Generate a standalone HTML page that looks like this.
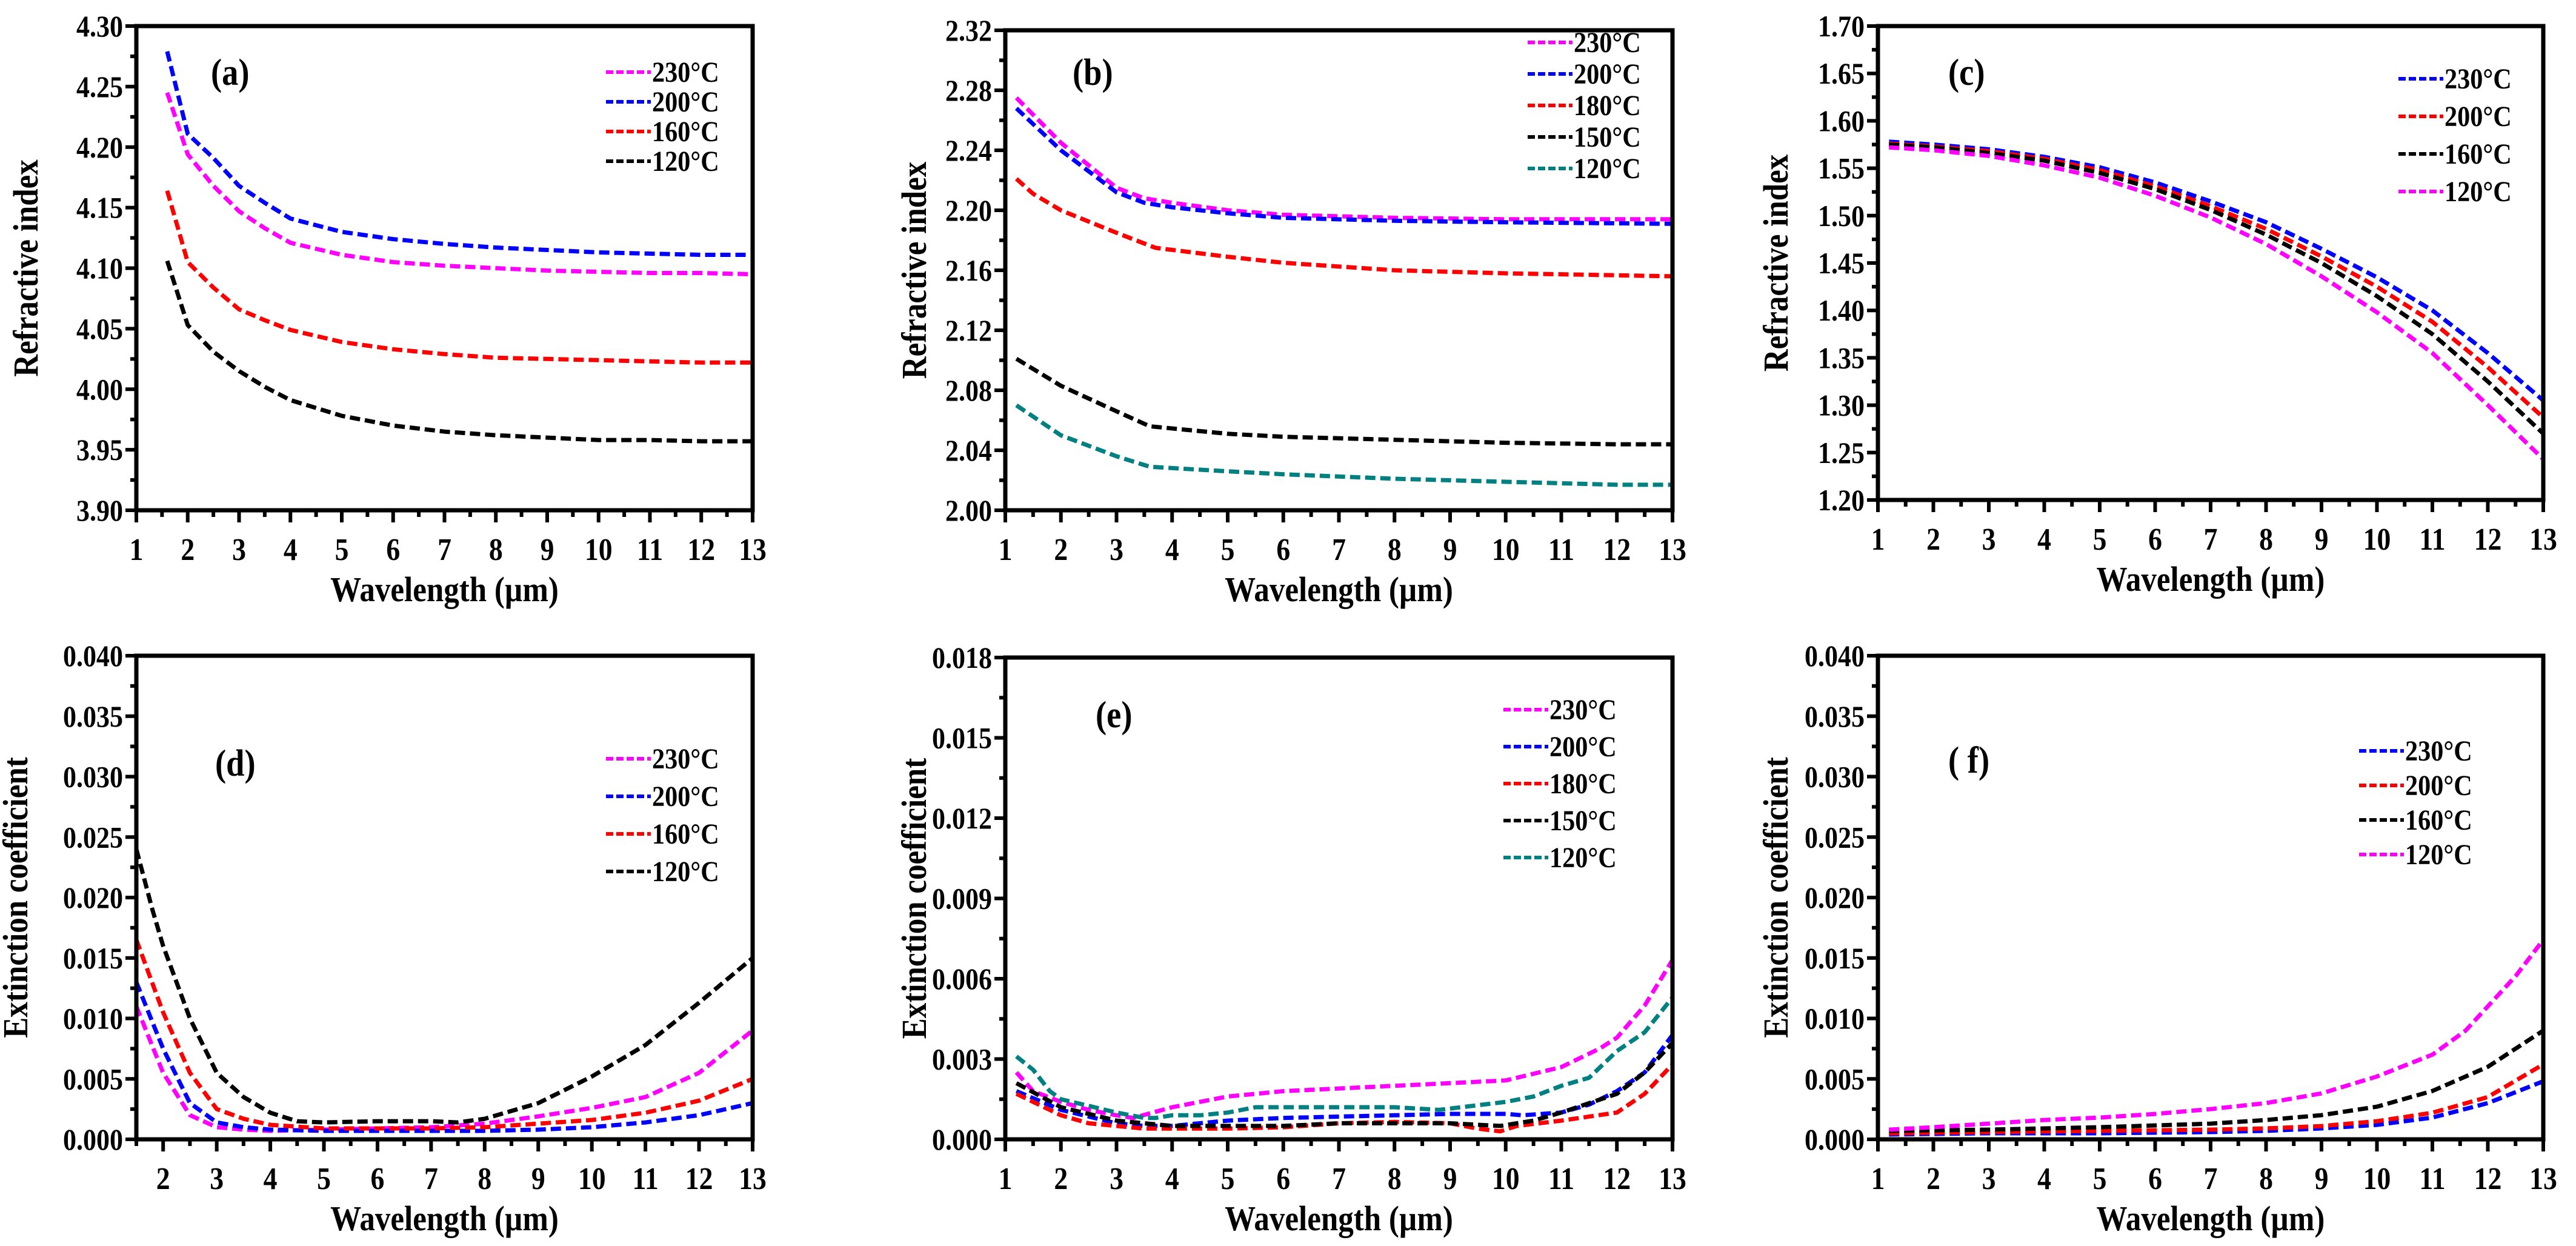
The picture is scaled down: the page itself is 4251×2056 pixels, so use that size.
<!DOCTYPE html>
<html><head><meta charset="utf-8"><style>
html,body{margin:0;padding:0;background:#fff}
svg{display:block}
text{font-family:"Liberation Serif",serif;font-weight:bold;fill:#000}
</style></head><body>
<svg id="fig" width="4251" height="2056" viewBox="0 0 4251 2056" xmlns="http://www.w3.org/2000/svg"></svg>
<script>
// ---------- data ----------
const legendA = ["230°C","200°C","160°C","120°C"];
const xA = [1.6,2,2.5,3,3.5,4,5,6,7,8,9,10,11,12,13];
const a230 = [4.245,4.194,4.168,4.147,4.133,4.121,4.111,4.105,4.102,4.100,4.098,4.097,4.096,4.096,4.095];
const a200 = [4.279,4.211,4.191,4.168,4.154,4.141,4.130,4.124,4.120,4.117,4.115,4.113,4.112,4.111,4.111];
const a160 = [4.164,4.105,4.084,4.066,4.057,4.049,4.039,4.033,4.029,4.026,4.025,4.024,4.023,4.022,4.022];
const a120 = [4.106,4.053,4.031,4.015,4.002,3.991,3.978,3.970,3.965,3.962,3.960,3.958,3.958,3.957,3.957];

const legendB = ["230°C","200°C","180°C","150°C","120°C"];
const xB = [1.2,2,3,3.5,4,5,6,8,10,13];
const b230 = [2.275,2.245,2.215,2.208,2.205,2.200,2.197,2.195,2.194,2.194];
const b200 = [2.268,2.240,2.212,2.205,2.202,2.198,2.195,2.193,2.192,2.191];
const xB2 = [1.2,1.5,2,3,3.7,5,6,8,10,13];
const b180 = [2.221,2.211,2.200,2.185,2.175,2.169,2.165,2.160,2.158,2.156];
const xB3 = [1.2,2,3,3.6,5,6,8,10,12,13];
const b150 = [2.101,2.083,2.066,2.056,2.051,2.049,2.047,2.045,2.044,2.044];
const b120 = [2.070,2.050,2.036,2.029,2.026,2.024,2.021,2.019,2.017,2.017];

const legendC = ["230°C","200°C","160°C","120°C"];
const xC = [1.2,2,3,4,5,6,7,8,9,10,11,12,13];
const c230 = [1.578,1.575,1.570,1.562,1.551,1.535,1.515,1.493,1.465,1.435,1.400,1.355,1.305];
const c200 = [1.576,1.573,1.568,1.560,1.548,1.531,1.510,1.486,1.457,1.425,1.388,1.340,1.287];
const c160 = [1.575,1.572,1.566,1.558,1.545,1.528,1.506,1.480,1.450,1.415,1.375,1.325,1.270];
const c120 = [1.572,1.569,1.563,1.553,1.540,1.521,1.498,1.470,1.436,1.398,1.355,1.300,1.243];

const legendD = ["230°C","200°C","160°C","120°C"];
const xD = [1.5,2,2.5,3,3.5,4,5,6,7,8,9,10,11,12,13];
const d230 = [0.011,0.0055,0.002,0.001,0.0008,0.0007,0.0008,0.0009,0.001,0.0013,0.0019,0.0026,0.0035,0.0055,0.009];
const d200 = [0.013,0.0075,0.003,0.0014,0.001,0.0008,0.0007,0.0007,0.0007,0.0007,0.0008,0.001,0.0014,0.002,0.003];
const d160 = [0.0165,0.0105,0.0055,0.0025,0.0017,0.0012,0.0009,0.0009,0.0009,0.001,0.0013,0.0016,0.0022,0.0032,0.005];
const xD2 = [1.5,1.8,2,2.5,3,3.5,4,4.5,5,6,7,7.5,8,9,10,11,12,13];
const d120 = [0.024,0.019,0.016,0.010,0.0055,0.0035,0.0022,0.0015,0.0014,0.0015,0.0015,0.0014,0.0017,0.003,0.0052,0.0078,0.0113,0.015];

const legendE = ["230°C","200°C","180°C","150°C","120°C"];
const xE1 = [1.2,1.5,2,2.5,3,3.3,4,5,6,7,8,9,10,11,11.7,12,12.5,13];
const e230 = [0.0025,0.0018,0.0014,0.0011,0.0009,0.0008,0.0012,0.0016,0.0018,0.0019,0.0020,0.0021,0.0022,0.0027,0.0034,0.0038,0.005,0.0067];
const xE2 = [1.2,2,3,3.5,4,5,6,7,8,9,10,10.3,11,11.5,12,12.5,13];
const e200 = [0.0018,0.0011,0.0006,0.0005,0.0005,0.0007,0.0008,0.00085,0.0009,0.00095,0.00095,0.0009,0.001,0.0013,0.0018,0.0025,0.0039];
const xE3 = [1.2,2,2.5,3,3.5,4,5,6,7,8,9,9.5,9.9,10.2,11,12,12.5,13];
const e180 = [0.0017,0.0009,0.0006,0.0005,0.0004,0.0004,0.0004,0.00045,0.0006,0.00065,0.0006,0.0004,0.0003,0.0005,0.0007,0.001,0.0017,0.0028];
const xE4 = [1.2,2,3,3.5,4,5,6,7,8,9,9.9,10.5,11,12,12.5,13];
const e150 = [0.0021,0.0012,0.0007,0.0006,0.0005,0.0005,0.0005,0.0006,0.0006,0.0006,0.0005,0.0007,0.001,0.0017,0.0025,0.0036];
const xE5 = [1.2,1.5,1.8,2,3,3.5,3.7,4,4.5,5,5.5,6,7,8,8.8,10,10.5,11,11.5,12,12.5,13];
const e120 = [0.0031,0.0026,0.0018,0.0015,0.001,0.0008,0.0008,0.0009,0.0009,0.001,0.0012,0.0012,0.0012,0.0012,0.0011,0.0014,0.0016,0.002,0.0023,0.0033,0.004,0.0053];

const legendF = ["230°C","200°C","160°C","120°C"];
const xF1 = [1.2,2,3,4,5,6,7,8,9,10,11,11.6,12,12.5,13];
const f120 = [0.0008,0.001,0.0013,0.0016,0.0018,0.0021,0.0025,0.003,0.0038,0.0052,0.007,0.009,0.011,0.0135,0.0165];
const xF = [1.2,3,5,7,8,9,10,11,12,13];
const f160 = [0.0007,0.0008,0.001,0.0013,0.0016,0.002,0.0027,0.004,0.006,0.009];
const f200 = [0.0005,0.0006,0.0007,0.0008,0.0009,0.0011,0.0015,0.0022,0.0035,0.0062];
const f230 = [0.0004,0.0005,0.0005,0.0006,0.0007,0.0009,0.0012,0.0018,0.003,0.0048];

const ticksA = ["3.90","3.95","4.00","4.05","4.10","4.15","4.20","4.25","4.30"];
const ticksB = ["2.00","2.04","2.08","2.12","2.16","2.20","2.24","2.28","2.32"];
const ticksC = ["1.20","1.25","1.30","1.35","1.40","1.45","1.50","1.55","1.60","1.65","1.70"];
const ticksDF = ["0.000","0.005","0.010","0.015","0.020","0.025","0.030","0.035","0.040"];
const ticksE = ["0.000","0.003","0.006","0.009","0.012","0.015","0.018"];
const xTickLabels = ["1","2","3","4","5","6","7","8","9","10","11","12","13"];

// ---------- drawing ----------
const NS = "http://www.w3.org/2000/svg";
const svg = document.getElementById("fig");
const SQ = 0.88; // horizontal condensation to mimic narrow Times bold
function mk(tag, attrs, parent){
  const e = document.createElementNS(NS, tag);
  for (const k in attrs) e.setAttribute(k, attrs[k]);
  (parent||svg).appendChild(e);
  return e;
}
function txt(parent, x, y, size, anchor, str, rot){
  const t = mk("text", {x:0, y:0, "font-size":size, "text-anchor":anchor,
    transform:"translate("+x+","+y+")" + (rot?" rotate(-90)":"") + " scale("+SQ+",1)"}, parent);
  t.textContent = str;
  return t;
}
const COL = {m:"#ff00ff", b:"#0000ff", r:"#ff0000", k:"#000000", t:"#008080"};

function panel(cfg){
  const g = mk("g", {});
  
  
  const L=cfg.L,R=cfg.R,T=cfg.T,B=cfg.B;
  const sx = v => L + (v - cfg.xmin)/(cfg.xmax - cfg.xmin)*(R-L);
  const yv = cfg.ticks.map(Number);
  const ymin = yv[0], ymax = yv[yv.length-1];
  const sy = v => B - (v - ymin)/(ymax - ymin)*(B-T);
  cfg.series.forEach(s => {
    let d = "";
    s.x.forEach((xv,i) => { d += (i?"L":"M") + sx(xv).toFixed(1) + "," + sy(s.y[i]).toFixed(1); });
    const p = mk("path", {d:d, fill:"none", stroke:s.c, "stroke-width":7, "stroke-dasharray":"17 8", "stroke-linejoin":"round"}, g);
    
    
  });
  const fr = mk("rect", {x:L, y:T, width:R-L, height:B-T, fill:"none", stroke:"#000", "stroke-width":7}, g);
  
  
  const ya = mk("g", {}, g);
  
  
  cfg.ticks.forEach((t,i) => {
    const y = sy(Number(t));
    mk("line", {x1:L-18, x2:L, y1:y, y2:y, stroke:"#000","stroke-width":6}, ya);
    if (i < cfg.ticks.length-1){
      const ym = sy((Number(t)+Number(cfg.ticks[i+1]))/2);
      mk("line", {x1:L-10, x2:L, y1:ym, y2:ym, stroke:"#000","stroke-width":6}, ya);
    }
    const tx = txt(ya, L-22, y+17, 50, "end", t);
    
    
  });
  const xa = mk("g", {}, g);
  
  
  xTickLabels.forEach((t,i) => {
    const v = Number(t);
    if (v >= cfg.xmin) {
      const x = sx(v);
      mk("line", {x1:x, x2:x, y1:B, y2:B+20, stroke:"#000","stroke-width":6}, xa);
      const tx = txt(xa, x, B+82, 52, "middle", t);
      
      
    }
    if (v+0.5 <= cfg.xmax && v+0.5 >= cfg.xmin) {
      const xm = sx(v+0.5);
      mk("line", {x1:xm, x2:xm, y1:B, y2:B+11, stroke:"#000","stroke-width":6}, xa);
    }
  });
  const xt = txt(g, (L+R)/2, B+150, 58, "middle", "Wavelength (µm)");
  
  
  const yt = txt(g, cfg.ytx, (T+B)/2, 58, "middle", cfg.ytitle, true);
  
  
  const pl = txt(g, cfg.lab[0], cfg.lab[1], 62, "start", cfg.label);
  
  
  const lg = mk("g", {}, g);
  
  
  cfg.legend.forEach((name,i) => {
    const y = cfg.leg.y0 + i*cfg.leg.dy;
    const it = mk("g", {}, lg);
    
    
    mk("line", {x1:cfg.leg.x, x2:cfg.leg.x+74, y1:y, y2:y, stroke:cfg.legCol[i], "stroke-width":6, "stroke-dasharray":"12 5"}, it);
    txt(it, cfg.leg.x+76, y+16, 48, "start", name);
  });
}

const Y1T=43, Y1B=842, Y2T=1082, Y2B=1880;
panel({id:"a", L:225, R:1242, T:Y1T, B:Y1B, xmin:1, xmax:13, ticks:ticksA, ytitle:"Refractive index", ytx:62,
  label:"(a)", lab:[348,140], legend:legendA, legCol:[COL.m,COL.b,COL.r,COL.k], leg:{x:1000,y0:119,dy:49},
  series:[{name:"230C",x:xA,y:a230,c:COL.m},{name:"200C",x:xA,y:a200,c:COL.b},{name:"160C",x:xA,y:a160,c:COL.r},{name:"120C",x:xA,y:a120,c:COL.k}]});
panel({id:"b", L:1659, R:2760, T:50, B:Y1B, xmin:1, xmax:13, ticks:ticksB, ytitle:"Refractive index", ytx:1528,
  label:"(b)", lab:[1770,140], legend:legendB, legCol:[COL.m,COL.b,COL.r,COL.k,COL.t], leg:{x:2521,y0:70,dy:52},
  series:[{name:"230C",x:xB,y:b230,c:COL.m},{name:"200C",x:xB,y:b200,c:COL.b},{name:"180C",x:xB2,y:b180,c:COL.r},{name:"150C",x:xB3,y:b150,c:COL.k},{name:"120C",x:xB3,y:b120,c:COL.t}]});
panel({id:"c", L:3099, R:4197, T:43, B:825, xmin:1, xmax:13, ticks:ticksC, ytitle:"Refractive index", ytx:2950,
  label:"(c)", lab:[3215,140], legend:legendC, legCol:[COL.b,COL.r,COL.k,COL.m], leg:{x:3958,y0:130,dy:62},
  series:[{name:"230C",x:xC,y:c230,c:COL.b},{name:"200C",x:xC,y:c200,c:COL.r},{name:"160C",x:xC,y:c160,c:COL.k},{name:"120C",x:xC,y:c120,c:COL.m}]});
panel({id:"d", L:225, R:1242, T:Y2T, B:Y2B, xmin:1.5, xmax:13, ticks:ticksDF, ytitle:"Extinction coefficient", ytx:45,
  label:"(d)", lab:[355,1280], legend:legendD, legCol:[COL.m,COL.b,COL.r,COL.k], leg:{x:1000,y0:1252,dy:62},
  series:[{name:"230C",x:xD,y:d230,c:COL.m},{name:"200C",x:xD,y:d200,c:COL.b},{name:"160C",x:xD,y:d160,c:COL.r},{name:"120C",x:xD2,y:d120,c:COL.k}]});
panel({id:"e", L:1659, R:2760, T:1085, B:Y2B, xmin:1, xmax:13, ticks:ticksE, ytitle:"Extinction coefficient", ytx:1528,
  label:"(e)", lab:[1808,1200], legend:legendE, legCol:[COL.m,COL.b,COL.r,COL.k,COL.t], leg:{x:2481,y0:1171,dy:61},
  series:[{name:"230C",x:xE1,y:e230,c:COL.m},{name:"200C",x:xE2,y:e200,c:COL.b},{name:"180C",x:xE3,y:e180,c:COL.r},{name:"150C",x:xE4,y:e150,c:COL.k},{name:"120C",x:xE5,y:e120,c:COL.t}]});
panel({id:"f", L:3099, R:4197, T:Y2T, B:Y2B, xmin:1, xmax:13, ticks:ticksDF, ytitle:"Extinction coefficient", ytx:2950,
  label:"( f)", lab:[3215,1275], legend:legendF, legCol:[COL.b,COL.r,COL.k,COL.m], leg:{x:3893,y0:1239,dy:57},
  series:[{name:"230C",x:xF,y:f230,c:COL.b},{name:"200C",x:xF,y:f200,c:COL.r},{name:"160C",x:xF,y:f160,c:COL.k},{name:"120C",x:xF1,y:f120,c:COL.m}]});
</script>
</body></html>
